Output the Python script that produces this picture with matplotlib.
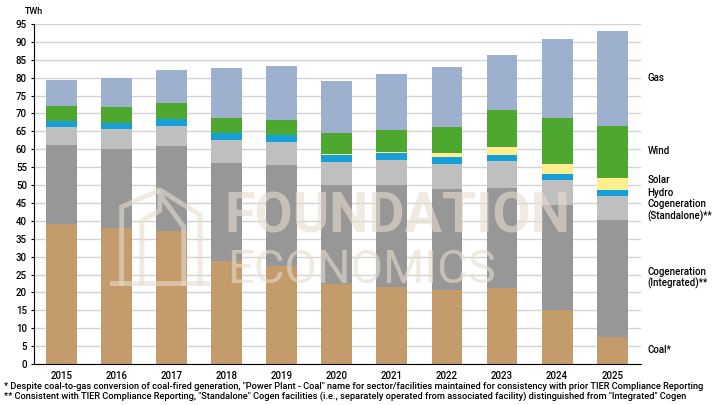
import numpy as np
import matplotlib.pyplot as plt
from matplotlib.lines import Line2D

plt.rcParams['font.family'] = ['Roboto', 'DejaVu Sans']
plt.rcParams['font.weight'] = 'medium'

# generation by source, TWh
years = ['2015', '2016', '2017', '2018', '2019', '2020', '2021', '2022', '2023', '2024', '2025']
coal = [39.1, 38.0, 37.2, 28.8, 27.4, 22.4, 21.5, 20.7, 21.2, 15.1, 7.5]
cogen_integrated = [22.1, 22.1, 23.7, 27.4, 28.2, 27.6, 28.5, 28.2, 28.0, 29.3, 32.7]
cogen_standalone = [5.0, 5.6, 5.6, 6.4, 6.4, 6.5, 7.0, 7.0, 7.5, 7.0, 6.8]
hydro = [1.7, 1.7, 2.0, 2.0, 2.0, 1.9, 2.0, 2.0, 1.7, 1.7, 1.6]
solar = [0.0, 0.0, 0.0, 0.0, 0.0, 0.3, 0.3, 1.1, 2.2, 2.8, 3.4]
wind = [4.2, 4.4, 4.4, 4.2, 4.2, 5.9, 6.1, 7.2, 10.4, 12.9, 14.5]
gas = [7.3, 8.2, 9.3, 13.9, 15.1, 14.5, 15.7, 16.8, 15.4, 22.0, 26.6]

series = [
    (coal, '#C49C6C'),
    (cogen_integrated, '#979797'),
    (cogen_standalone, '#BFBFBF'),
    (hydro, '#16A0DA'),
    (solar, '#FFEE8F'),
    (wind, '#4EA72E'),
    (gas, '#9DB0CE'),
]

# right-hand labels and the height they sit at
label_text = ['Gas', 'Wind', 'Solar', 'Hydro', 'Cogeneration\n(Standalone)**',
              'Cogeneration\n(Integrated)**', 'Coal*']
label_y = [79.9, 59.5, 51.4, 47.8, 42.9, 24.1, 3.9]

fig = plt.figure(figsize=(7.2, 4.05), dpi=100)
ax = fig.add_axes([0.047, 0.101, 0.843, 0.840])

x = np.arange(len(years))
bottom = np.zeros(len(years))
for vals, col in series:
    ax.bar(x, vals, 0.56, bottom=bottom, color=col, zorder=2)
    bottom += np.array(vals)

ax.set_xlim(-0.5, len(years) - 0.48)
ax.set_ylim(0, 95)
ax.set_yticks(np.arange(0, 96, 5))
ax.set_xticks(x)
ax.set_xticklabels(years)
ax.tick_params(axis='y', labelsize=7, length=2, pad=3)
ax.tick_params(axis='x', labelsize=7, length=0, pad=5)
ax.yaxis.grid(True, color='#D4D4D4', linewidth=1, zorder=0)
ax.set_axisbelow(True)
for s in ['top', 'right']:
    ax.spines[s].set_visible(False)
ax.spines['left'].set_color('black')
ax.spines['bottom'].set_color('black')

for t, yv in zip(label_text, label_y):
    ax.text(10.64, yv, t, fontsize=7, va='center', ha='left', clip_on=False,
            linespacing=1.1)

fig.text(0.035, 0.972, 'TWh', fontsize=6.5, va='center', ha='left')

fig.text(0.006, 0.046,
         '* Despite coal-to-gas conversion of coal-fired generation, "Power Plant - Coal" name for '
         'sector/facilities maintained for consistency with prior TIER Compliance Reporting',
         fontsize=6.65, va='center', ha='left')
fig.text(0.006, 0.021,
         '** Consistent with TIER Compliance Reporting, "Standalone" Cogen facilities (i.e., separately '
         'operated from associated facility) distinguished from "Integrated" Cogen',
         fontsize=6.65, va='center', ha='left')

# watermark
wm = '#E6DDD0'
fig.text(0.312, 0.427, 'FOUNDATION', fontsize=40, fontweight='bold', color=wm,
         alpha=0.6, va='baseline', ha='left', zorder=5)
fig.text(0.316, 0.301, 'ECONOMICS', fontsize=34, fontweight='normal', color=wm,
         alpha=0.6, va='baseline', ha='left', zorder=5)
lines = [
    ([0.156, 0.288], [0.301, 0.301]),
    ([0.169, 0.169, 0.222, 0.278, 0.278], [0.301, 0.489, 0.531, 0.469, 0.301]),
    ([0.197, 0.197, 0.222, 0.222, 0.255, 0.255], [0.301, 0.455, 0.48, 0.52, 0.44, 0.301]),
]
for lx, ly in lines:
    fig.add_artist(Line2D(lx, ly, color=wm, alpha=0.6, linewidth=3.5,
                          transform=fig.transFigure, solid_joinstyle='miter'))

fig.savefig('out.png', dpi=100)
